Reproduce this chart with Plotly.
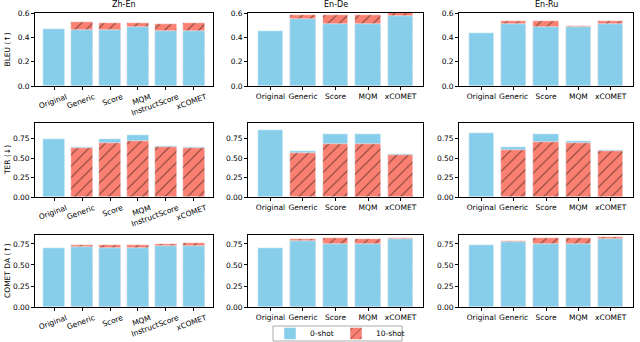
import plotly.graph_objects as go

langs = ["Zh-En", "En-De", "En-Ru"]
cats_zh = ["Original", "Generic", "Score", "MQM", "InstructScore", "xCOMET"]
cats_other = ["Original", "Generic", "Score", "MQM", "xCOMET"]
metrics = ["BLEU (↑)", "TER (↓)", "COMET DA (↑)"]

# BLEU
bleu_zero_zh = [0.470, 0.462, 0.460, 0.482, 0.454, 0.454]
bleu_ten_zh = [None, 0.526, 0.517, 0.517, 0.509, 0.517]
bleu_zero_de = [0.454, 0.550, 0.512, 0.512, 0.573]
bleu_ten_de = [None, 0.586, 0.586, 0.586, 0.610]
bleu_zero_ru = [0.435, 0.512, 0.485, 0.485, 0.512]
bleu_ten_ru = [None, 0.537, 0.537, 0.495, 0.537]

# TER
ter_zero_zh = [0.750, 0.646, 0.746, 0.793, 0.659, 0.641]
ter_ten_zh = [None, 0.637, 0.698, 0.724, 0.641, 0.628]
ter_zero_de = [0.867, 0.594, 0.815, 0.810, 0.559]
ter_ten_de = [None, 0.572, 0.689, 0.689, 0.546]
ter_zero_ru = [0.824, 0.641, 0.810, 0.715, 0.607]
ter_ten_ru = [None, 0.607, 0.707, 0.698, 0.590]

# COMET DA
comet_zero_zh = [0.707, 0.718, 0.707, 0.707, 0.726, 0.726]
comet_ten_zh = [None, 0.738, 0.738, 0.734, 0.750, 0.758]
comet_zero_de = [0.699, 0.790, 0.750, 0.750, 0.805]
comet_ten_de = [None, 0.805, 0.817, 0.805, 0.817]
comet_zero_ru = [0.738, 0.778, 0.746, 0.746, 0.809]
comet_ten_ru = [None, 0.790, 0.817, 0.825, 0.837]

yticks_bleu = [0.0, 0.2, 0.4, 0.6]
yticks_other = [0.0, 0.25, 0.5, 0.75]

data = [
    [(bleu_zero_zh, bleu_ten_zh), (bleu_zero_de, bleu_ten_de), (bleu_zero_ru, bleu_ten_ru)],
    [(ter_zero_zh, ter_ten_zh), (ter_zero_de, ter_ten_de), (ter_zero_ru, ter_ten_ru)],
    [(comet_zero_zh, comet_ten_zh), (comet_zero_de, comet_ten_de), (comet_zero_ru, comet_ten_ru)],
]
yranges = [[0, 0.6], [0, 0.953], [0, 0.857]]

BLUE = "#87CEEB"
RED = "#FA8072"
FONT = "DejaVu Sans"

xdom = [[35/640, 213/640], [248/640, 423/640], [459/640, 633/640]]
ydom = [[1-86/342, 1-13/342], [1-197/342, 1-123/342], [1-307/342, 1-235/342]]

fig = go.Figure()
layout = {}
idx = 0
for r in range(3):
    for c in range(3):
        idx += 1
        xa = "x" if idx == 1 else f"x{idx}"
        ya = "y" if idx == 1 else f"y{idx}"
        cats = cats_zh if c == 0 else cats_other
        zero, ten = data[r][c]
        xs = list(range(len(cats)))
        blue = go.Bar(x=xs, y=zero, width=0.78, marker=dict(color=BLUE, line=dict(color="white", width=0.5)),
                      name="0-shot", legend="legend", showlegend=(idx == 1),
                      xaxis=xa, yaxis=ya)
        red = go.Bar(x=xs, y=ten, width=0.78,
                     marker=dict(color=RED, line=dict(color="white", width=0.5),
                                 pattern=dict(shape="/", fgcolor="black", bgcolor=RED, size=8, solidity=0.13)),
                     name="10-shot", legend="legend2", showlegend=(idx == 1),
                     xaxis=xa, yaxis=ya)
        if r == 1:
            fig.add_trace(blue)
            fig.add_trace(red)
        else:
            fig.add_trace(red)
            fig.add_trace(blue)
        n = len(cats)
        xkey = "xaxis" if idx == 1 else f"xaxis{idx}"
        ykey = "yaxis" if idx == 1 else f"yaxis{idx}"
        xax = dict(domain=xdom[c], anchor=ya, range=[-0.69, n - 1 + 0.69],
                   tickvals=xs, ticktext=cats, tickangle=(-20 if c == 0 else 0),
                   showline=True, mirror=True, linecolor="black", linewidth=0.8,
                   ticks="outside", ticklen=3, tickwidth=0.8, tickcolor="black",
                   showgrid=False, zeroline=False,
                   tickfont=dict(size=7.5, family=FONT, color="black"))
        if c == 0:
            xax["ticklabelshift"] = 12
        layout[xkey] = xax
        tv = yticks_bleu if r == 0 else yticks_other
        tt = [f"{v:.1f}" for v in tv] if r == 0 else [f"{v:.2f}" for v in tv]
        layout[ykey] = dict(domain=ydom[r], anchor=xa, range=yranges[r],
                            tickvals=tv, ticktext=tt,
                            showline=True, mirror=True, linecolor="black", linewidth=0.8,
                            ticks="outside", ticklen=3, tickwidth=0.8, tickcolor="black",
                            showgrid=False, zeroline=False,
                            tickfont=dict(size=7.5, family=FONT, color="black"))

annotations = []
for c, lang in enumerate(langs):
    annotations.append(dict(text=lang, x=(xdom[c][0] + xdom[c][1]) / 2, y=ydom[0][1] + 2/342,
                            xref="paper", yref="paper", xanchor="center", yanchor="bottom",
                            showarrow=False, font=dict(size=8, family=FONT, color="black")))
for r, m in enumerate(metrics):
    annotations.append(dict(text=m, x=7/640, y=(ydom[r][0] + ydom[r][1]) / 2,
                            xref="paper", yref="paper", xanchor="center", yanchor="middle",
                            textangle=-90, showarrow=False,
                            font=dict(size=7.5, family=FONT, color="black")))

legend_common = dict(orientation="h", yanchor="middle", y=1 - 333.5/342,
                     bgcolor="rgba(0,0,0,0)", borderwidth=0,
                     font=dict(size=7.5, family=FONT, color="black"), itemwidth=30)

fig.update_layout(
    width=640, height=342,
    margin=dict(l=0, r=0, t=0, b=0, autoexpand=False),
    paper_bgcolor="white", plot_bgcolor="white",
    barmode="overlay",
    bargap=0,
    annotations=annotations,
    shapes=[dict(type="rect", xref="paper", yref="paper",
                 x0=273/640, x1=402/640, y0=1-341/342, y1=1-326/342,
                 line=dict(color="#aaaaaa", width=1), fillcolor="white", layer="below")],
    legend=dict(x=270/640, xanchor="left", **legend_common),
    legend2=dict(x=336/640, xanchor="left", **legend_common),
    font=dict(family=FONT),
    **layout,
)

fig.write_html("out.html", config={"displayModeBar": False},
               post_script="document.body.style.margin='0px';")
